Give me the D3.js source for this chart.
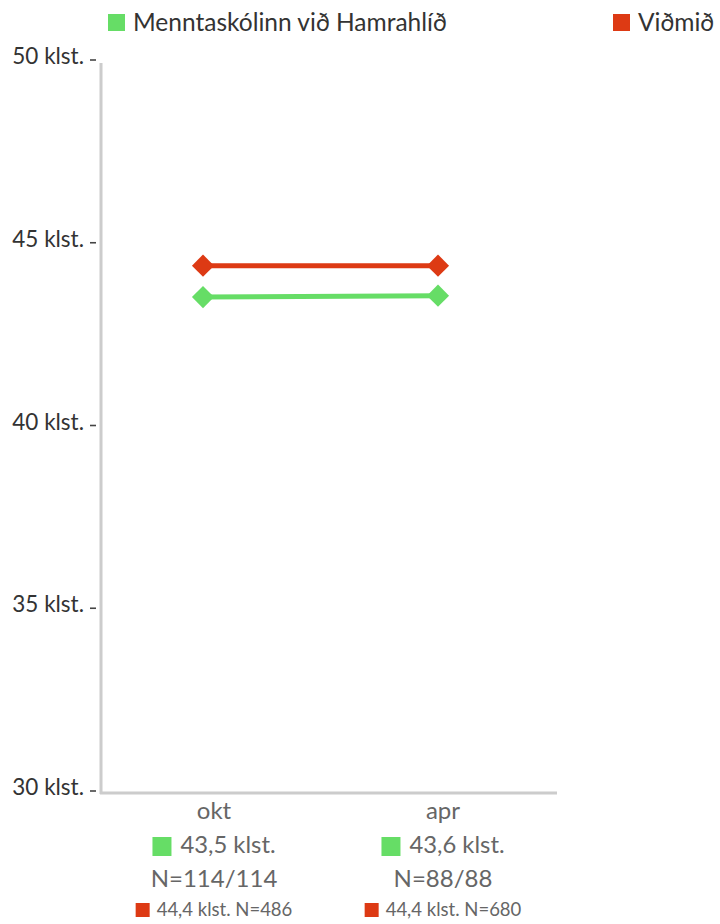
<!DOCTYPE html>
<meta charset="utf-8">
<style>
body { margin: 0; background: #fff; }
svg { font-family: Lato, sans-serif; }
.tick-label { fill: #333; font-size: 22.5px; }
.xlab { fill: #666; font-size: 24px; text-anchor: middle; }
</style>
<svg width="720" height="924"></svg>
<script src="https://cdn.jsdelivr.net/npm/d3@7"></script>
<script>

var months = ["okt", "apr"];
var schoolValues = [43.54, 43.58];
var schoolN = ["114/114", "88/88"];
var refValues = [44.4, 44.4];
var refN = [486, 680];
var yTicks = [30, 35, 40, 45, 50];

var seriesNames = ["Menntaskólinn við Hamrahlíð", "Viðmið"];
var colors = ["#66dd66", "#dd3a14"];

var svg = d3.select("svg");

var y = d3.scaleLinear().domain([30, 50]).range([792, 61]);
var x = d3.scalePoint().domain(months).range([203, 438]);
var xl = d3.scalePoint().domain(months).range([214, 443]);

function fmt(v) { return String(v.toFixed(1)).replace(".", ","); }

// legend
var leg = svg.append("g");
var legX = [108, 613];
seriesNames.forEach(function(name, i) {
  leg.append("rect").attr("x", legX[i]).attr("y", 14).attr("width", 17).attr("height", 17)
    .attr("fill", colors[i]);
  leg.append("text").attr("x", legX[i] + 25).attr("y", 31)
    .attr("font-size", 24.5).attr("fill", "#333").text(name);
});

// axes
svg.append("line").attr("x1", 101).attr("x2", 101).attr("y1", 63).attr("y2", 794)
  .attr("stroke", "#ccc").attr("stroke-width", 3);
svg.append("line").attr("x1", 100).attr("x2", 557).attr("y1", 793).attr("y2", 793)
  .attr("stroke", "#ccc").attr("stroke-width", 3);

var yt = svg.append("g").selectAll("g").data(yTicks).enter().append("g");
yt.append("line").attr("x1", 90).attr("x2", 96)
  .attr("y1", function(d) { return y(d) - 1; }).attr("y2", function(d) { return y(d) - 1; })
  .attr("stroke", "#444").attr("stroke-width", 1.6);
yt.append("text").attr("class", "tick-label").attr("x", 84).attr("text-anchor", "end")
  .attr("y", function(d) { return y(d) + 3; })
  .text(function(d) { return d + " klst."; });

// lines
var line = d3.line().x(function(d, i) { return x(months[i]); }).y(function(d) { return y(d); });
var diamond = d3.symbol().type(d3.symbolDiamond2).size(312);

[schoolValues, refValues].forEach(function(vals, s) {
  svg.append("path").datum(vals).attr("d", line).attr("fill", "none")
    .attr("stroke", colors[s]).attr("stroke-width", 5);
  svg.append("g").selectAll("path").data(vals).enter().append("path")
    .attr("d", diamond)
    .attr("transform", function(d, i) { return "translate(" + x(months[i]) + "," + y(d) + ")"; })
    .attr("fill", colors[s]);
});

// x labels
var xg = svg.append("g").selectAll("g").data(months).enter().append("g")
  .attr("transform", function(d) { return "translate(" + xl(d) + ",0)"; });
xg.append("text").attr("class", "xlab").attr("y", 819).text(function(d) { return d; });

xg.each(function(d, i) {
  var g = d3.select(this);
  // green value row: square + text, centred as a group
  var t = g.append("text").attr("y", 853).attr("font-size", 23.8).attr("fill", "#666")
    .text(fmt(schoolValues[i]) + " klst.");
  var w = t.node().getComputedTextLength();
  var left = -(19 + 9 + w) / 2;
  g.append("rect").attr("x", left).attr("y", 837).attr("width", 19).attr("height", 19)
    .attr("fill", colors[0]);
  t.attr("x", left + 28);

  g.append("text").attr("class", "xlab").attr("y", 887).text("N=" + schoolN[i]);

  // reference row
  var t2 = g.append("text").attr("y", 916).attr("font-size", 18.5).attr("fill", "#666")
    .text(fmt(refValues[i]) + " klst. N=" + refN[i]);
  var w2 = t2.node().getComputedTextLength();
  var left2 = -(14 + 7 + w2) / 2;
  g.append("rect").attr("x", left2).attr("y", 903).attr("width", 14).attr("height", 14)
    .attr("fill", colors[1]);
  t2.attr("x", left2 + 21);
});

</script>
